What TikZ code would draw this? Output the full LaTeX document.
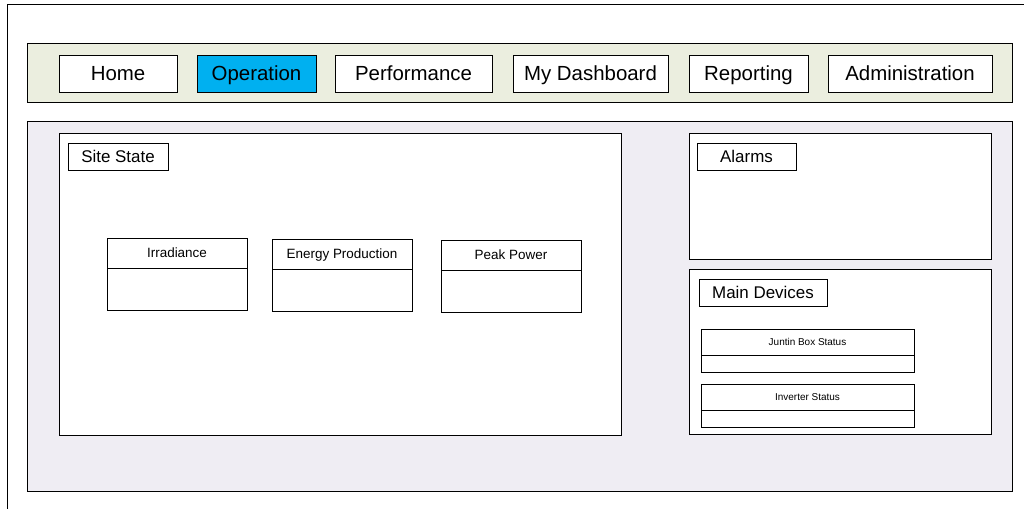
\documentclass[tikz,border=0pt]{standalone}
\usepackage{fontspec}
\setmainfont{Liberation Sans}
\usetikzlibrary{positioning}

\definecolor{navbg}{HTML}{EBEEDF}
\definecolor{pagebg}{HTML}{EFEDF3}
\definecolor{selblue}{HTML}{00B0F0}

\begin{document}
\begin{tikzpicture}[x=1bp,y=-1bp,line width=0.9bp,
    navbtn/.style={draw,fill=white,anchor=north west,minimum height=37bp,inner sep=0pt,outer sep=0pt,text height=14.7bp,text depth=0pt,font=\fontsize{20.5}{24}\selectfont},
    panel/.style={draw,fill=white,anchor=north west,inner sep=0pt,outer sep=0pt},
    tag/.style={draw,fill=white,anchor=north west,minimum height=27bp,inner sep=0pt,outer sep=0pt,text height=12.2bp,text depth=0pt,font=\fontsize{17}{20}\selectfont},
    whead/.style={draw,fill=white,anchor=north west,minimum width=140bp,minimum height=30bp,inner sep=0pt,outer sep=0pt,text height=9.7bp,text depth=0pt,font=\fontsize{13.5}{16}\selectfont},
    wbody/.style={draw,fill=white,minimum width=140bp,minimum height=42bp,inner sep=0pt,outer sep=0pt},
    dhead/.style={draw,fill=white,anchor=north west,minimum width=213bp,minimum height=26bp,inner sep=0pt,outer sep=0pt,text height=7.2bp,text depth=0pt,font=\fontsize{10}{12}\selectfont},
    dbody/.style={draw,fill=white,minimum width=213bp,minimum height=17bp,inner sep=0pt,outer sep=0pt}]
         \useasboundingbox (0,0) rectangle (1024,509);
         \draw (7,509) -- (7,4) -- (1024,4);

         % menu bar
         \node[panel,fill=navbg,minimum width=985bp,minimum height=59bp](navbar) at (27,43) {};
         \node[navbtn,minimum width=118bp](home) at (59,55) {Home};
         \node[navbtn,minimum width=119bp,fill=selblue](operation) at (197,55) {Operation};
         \node[navbtn,minimum width=157bp](performance) at (335,55) {Performance};
         \node[navbtn,minimum width=155bp](dashboard) at (513,55) {My Dashboard};
         \node[navbtn,minimum width=119bp](reporting) at (689,55) {Reporting};
         \node[navbtn,minimum width=164bp](admin) at (828,55) {Administration};

         % page content
         \node[panel,fill=pagebg,minimum width=985bp,minimum height=370bp](mainarea) at (27,121) {};
         \node[panel,minimum width=562bp,minimum height=302bp](sitestate) at (59,133) {};
         \node[tag,minimum width=100bp](sitetag) at (68,143) {Site State};

         \node[whead](irr) at (107,238) {Irradiance};
         \node[wbody,below=0pt of irr](irrbody) {};
         \node[whead](energy) at (272,239) {Energy Production};
         \node[wbody,below=0pt of energy](energybody) {};
         \node[whead](peak) at (441,240) {Peak Power};
         \node[wbody,below=0pt of peak](peakbody) {};

         \node[panel,minimum width=302bp,minimum height=126bp](alarms) at (689,133) {};
         \node[tag,minimum width=99bp](alarmtag) at (697,143) {Alarms};

         \node[panel,minimum width=302bp,minimum height=165bp](devices) at (689,269) {};
         \node[tag,minimum width=128bp](devicetag) at (699,279) {Main Devices};
         \node[dhead](jbox) at (701,329) {Juntin Box Status};
         \node[dbody,below=0pt of jbox](jboxbody) {};
         \node[dhead](inverter) at (701,384) {Inverter Status};
         \node[dbody,below=0pt of inverter](inverterbody) {};
		\end{tikzpicture}
\end{document}
